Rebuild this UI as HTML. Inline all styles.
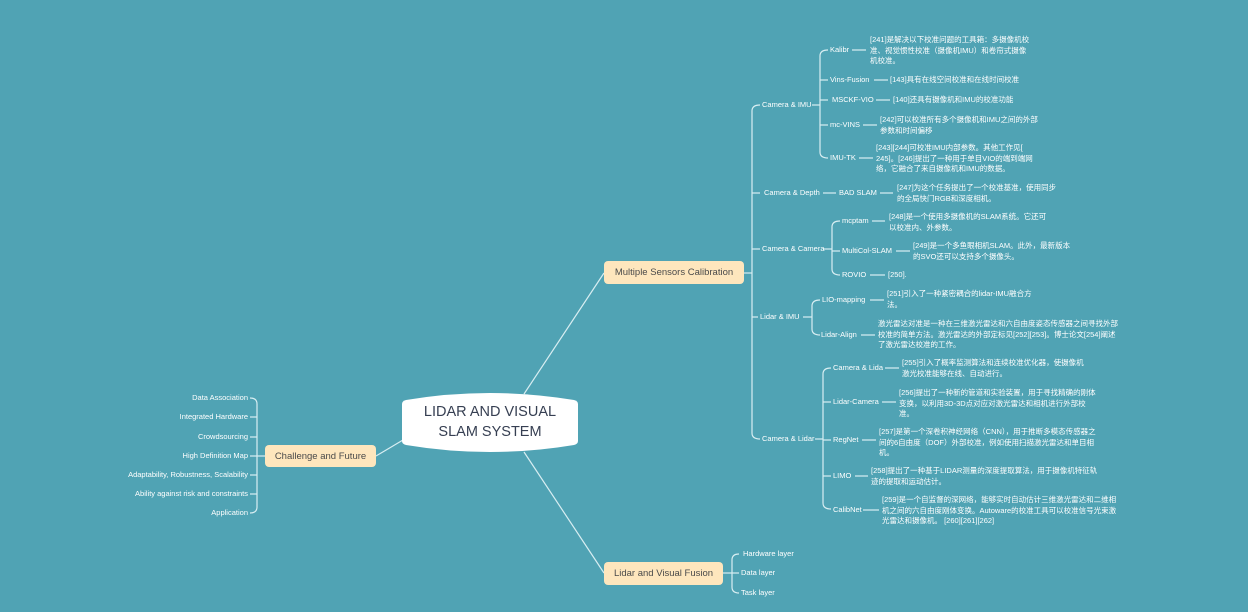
<!DOCTYPE html>
<html><head><meta charset="utf-8">
<style>
html,body{margin:0;padding:0;}
body{width:1248px;height:612px;background:#50a3b4;position:relative;overflow:hidden;font-family:"Liberation Sans","Noto Sans CJK SC",sans-serif;}
.t{position:absolute;color:#fff;font-size:7.5px;line-height:10.5px;white-space:nowrap;}
.l{position:absolute;color:#fff;font-size:7.5px;line-height:10px;white-space:nowrap;}
.n{position:absolute;background:#fee6bd;border-radius:4px;color:#4a4a4a;font-size:9.5px;display:flex;align-items:center;justify-content:center;white-space:nowrap;}
svg{position:absolute;left:0;top:0;}
</style></head><body>
<svg width="1248" height="612" fill="none" stroke="#d8eef2" stroke-width="1.2">
<!-- main branches -->
<line x1="524" y1="394" x2="604" y2="273"/>
<line x1="524" y1="452" x2="604" y2="573"/>
<line x1="403" y1="440" x2="376" y2="456"/>
<!-- MSC bracket -->
<line x1="744" y1="273" x2="752" y2="273"/>
<path d="M760 105 Q752 105 752 111 L752 433 Q752 439 760 439"/>
<line x1="752" y1="193" x2="760" y2="193"/>
<line x1="752" y1="249" x2="760" y2="249"/>
<line x1="752" y1="317" x2="758" y2="317"/>
<!-- Camera & IMU -->
<line x1="812" y1="105" x2="820" y2="105"/>
<path d="M828 50 Q820 50 820 56 L820 152 Q820 158 828 158"/>
<line x1="820" y1="80" x2="828" y2="80"/>
<line x1="820" y1="100" x2="828" y2="100"/>
<line x1="820" y1="125" x2="828" y2="125"/>
<line x1="852" y1="50" x2="866" y2="50"/>
<line x1="874" y1="80" x2="888" y2="80"/>
<line x1="876" y1="100" x2="890" y2="100"/>
<line x1="863" y1="125" x2="877" y2="125"/>
<line x1="859" y1="158" x2="873" y2="158"/>
<!-- Camera & Depth -->
<line x1="823" y1="193" x2="836" y2="193"/>
<line x1="880" y1="193" x2="893" y2="193"/>
<!-- Camera & Camera -->
<line x1="823" y1="249" x2="832" y2="249"/>
<path d="M840 221 Q832 221 832 227 L832 269 Q832 275 840 275"/>
<line x1="832" y1="251" x2="840" y2="251"/>
<line x1="872" y1="221" x2="885" y2="221"/>
<line x1="896" y1="251" x2="910" y2="251"/>
<line x1="870" y1="275" x2="885" y2="275"/>
<!-- Lidar & IMU -->
<line x1="803" y1="317" x2="812" y2="317"/>
<path d="M820 300 Q812 300 812 306 L812 329 Q812 335 820 335"/>
<line x1="870" y1="300" x2="884" y2="300"/>
<line x1="861" y1="335" x2="875" y2="335"/>
<!-- Camera & Lidar -->
<line x1="815" y1="439" x2="823" y2="439"/>
<path d="M831 368 Q823 368 823 374 L823 503 Q823 509 831 509"/>
<line x1="823" y1="402" x2="831" y2="402"/>
<line x1="823" y1="440" x2="831" y2="440"/>
<line x1="823" y1="476" x2="831" y2="476"/>
<line x1="885" y1="368" x2="899" y2="368"/>
<line x1="882" y1="402" x2="896" y2="402"/>
<line x1="862" y1="440" x2="876" y2="440"/>
<line x1="855" y1="476" x2="868" y2="476"/>
<line x1="863" y1="510" x2="879" y2="510"/>
<!-- Challenge bracket -->
<line x1="265" y1="456" x2="257" y2="456"/>
<path d="M250 398 Q257 398 257 404 L257 507 Q257 513 250 513"/>
<line x1="257" y1="417" x2="250" y2="417"/>
<line x1="257" y1="437" x2="250" y2="437"/>
<line x1="257" y1="456" x2="250" y2="456"/>
<line x1="257" y1="475" x2="250" y2="475"/>
<line x1="257" y1="494" x2="250" y2="494"/>
<!-- LVF bracket -->
<line x1="723" y1="573" x2="732" y2="573"/>
<path d="M739 554 Q732 554 732 560 L732 587 Q732 593 739 593"/>
<line x1="732" y1="573" x2="739" y2="573"/>
</svg>

<svg width="1248" height="612">
<path d="M402 404 Q402 401 406 400 Q490 386 574 400 Q578 401 578 404 L578 441 Q578 444 574 445 Q490 459 406 445 Q402 444 402 441 Z" fill="#fff"/>
</svg>
<div style="position:absolute;left:402px;top:402px;width:176px;text-align:center;color:#363f52;font-size:14.5px;line-height:20px;">LIDAR AND VISUAL<br>SLAM SYSTEM</div>

<div class="n" style="left:604px;top:261px;width:140px;height:23px;">Multiple Sensors Calibration</div>
<div class="n" style="left:265px;top:445px;width:111px;height:22px;">Challenge and Future</div>
<div class="n" style="left:604px;top:562px;width:119px;height:23px;">Lidar and Visual Fusion</div>

<!-- level 2 -->
<div class="l" style="left:762px;top:100px;">Camera &amp; IMU</div>
<div class="l" style="left:764px;top:188px;">Camera &amp; Depth</div>
<div class="l" style="left:762px;top:244px;">Camera &amp; Camera</div>
<div class="l" style="left:760px;top:312px;">Lidar &amp; IMU</div>
<div class="l" style="left:762px;top:434px;">Camera &amp; Lidar</div>

<!-- level 3 -->
<div class="l" style="left:830px;top:45px;">Kalibr</div>
<div class="l" style="left:830px;top:75px;">Vins-Fusion</div>
<div class="l" style="left:832px;top:95px;">MSCKF-VIO</div>
<div class="l" style="left:830px;top:120px;">mc-VINS</div>
<div class="l" style="left:830px;top:153px;">IMU-TK</div>
<div class="l" style="left:839px;top:188px;">BAD SLAM</div>
<div class="l" style="left:842px;top:216px;">mcptam</div>
<div class="l" style="left:842px;top:246px;">MultiCol-SLAM</div>
<div class="l" style="left:842px;top:270px;">ROVIO</div>
<div class="l" style="left:822px;top:295px;">LIO-mapping</div>
<div class="l" style="left:821px;top:330px;">Lidar-Align</div>
<div class="l" style="left:833px;top:363px;">Camera &amp; Lida</div>
<div class="l" style="left:833px;top:397px;">Lidar-Camera</div>
<div class="l" style="left:833px;top:435px;">RegNet</div>
<div class="l" style="left:833px;top:471px;">LIMO</div>
<div class="l" style="left:833px;top:505px;">CalibNet</div>

<!-- descriptions -->
<div class="t" style="left:870px;top:35px;">[241]是解决以下校准问题的工具箱：多摄像机校<br>准、视觉惯性校准（摄像机IMU）和卷帘式摄像<br>机校准。</div>
<div class="t" style="left:890px;top:75px;">[143]具有在线空间校准和在线时间校准</div>
<div class="t" style="left:893px;top:95px;">[140]还具有摄像机和IMU的校准功能</div>
<div class="t" style="left:880px;top:115px;">[242]可以校准所有多个摄像机和IMU之间的外部<br>参数和时间偏移</div>
<div class="t" style="left:876px;top:143px;">[243][244]可校准IMU内部参数。其他工作见[<br>245]。[246]提出了一种用于单目VIO的端到端网<br>络，它融合了来自摄像机和IMU的数据。</div>
<div class="t" style="left:897px;top:183px;">[247]为这个任务提出了一个校准基准，使用同步<br>的全局快门RGB和深度相机。</div>
<div class="t" style="left:889px;top:212px;">[248]是一个使用多摄像机的SLAM系统。它还可<br>以校准内、外参数。</div>
<div class="t" style="left:913px;top:241px;">[249]是一个多鱼眼相机SLAM。此外，最新版本<br>的SVO还可以支持多个摄像头。</div>
<div class="t" style="left:888px;top:270px;">[250].</div>
<div class="t" style="left:887px;top:289px;">[251]引入了一种紧密耦合的lidar-IMU融合方<br>法。</div>
<div class="t" style="left:878px;top:319px;">激光雷达对准是一种在三维激光雷达和六自由度姿态传感器之间寻找外部<br>校准的简单方法。激光雷达的外部定标见[252][253]。博士论文[254]阐述<br>了激光雷达校准的工作。</div>
<div class="t" style="left:902px;top:358px;">[255]引入了概率监测算法和连续校准优化器，使摄像机<br>激光校准能够在线、自动进行。</div>
<div class="t" style="left:899px;top:388px;">[256]提出了一种新的管道和实验装置，用于寻找精确的刚体<br>变换，以利用3D-3D点对应对激光雷达和相机进行外部校<br>准。</div>
<div class="t" style="left:879px;top:427px;">[257]是第一个深卷积神经网络（CNN），用于推断多模态传感器之<br>间的6自由度（DOF）外部校准，例如使用扫描激光雷达和单目相<br>机。</div>
<div class="t" style="left:871px;top:466px;">[258]提出了一种基于LIDAR测量的深度提取算法，用于摄像机特征轨<br>迹的提取和运动估计。</div>
<div class="t" style="left:882px;top:495px;">[259]是一个自监督的深网络，能够实时自动估计三维激光雷达和二维相<br>机之间的六自由度刚体变换。Autoware的校准工具可以校准信号光束激<br>光雷达和摄像机。 [260][261][262]</div>

<!-- challenge items -->
<div class="l" style="right:1000px;top:393px;">Data Association</div>
<div class="l" style="right:1000px;top:412px;">Integrated Hardware</div>
<div class="l" style="right:1000px;top:432px;">Crowdsourcing</div>
<div class="l" style="right:1000px;top:451px;">High Definition Map</div>
<div class="l" style="right:1000px;top:470px;">Adaptability, Robustness, Scalability</div>
<div class="l" style="right:1000px;top:489px;">Ability against risk and constraints</div>
<div class="l" style="right:1000px;top:508px;">Application</div>

<!-- LVF items -->
<div class="l" style="left:743px;top:549px;">Hardware layer</div>
<div class="l" style="left:741px;top:568px;">Data layer</div>
<div class="l" style="left:741px;top:588px;">Task layer</div>
</body></html>
